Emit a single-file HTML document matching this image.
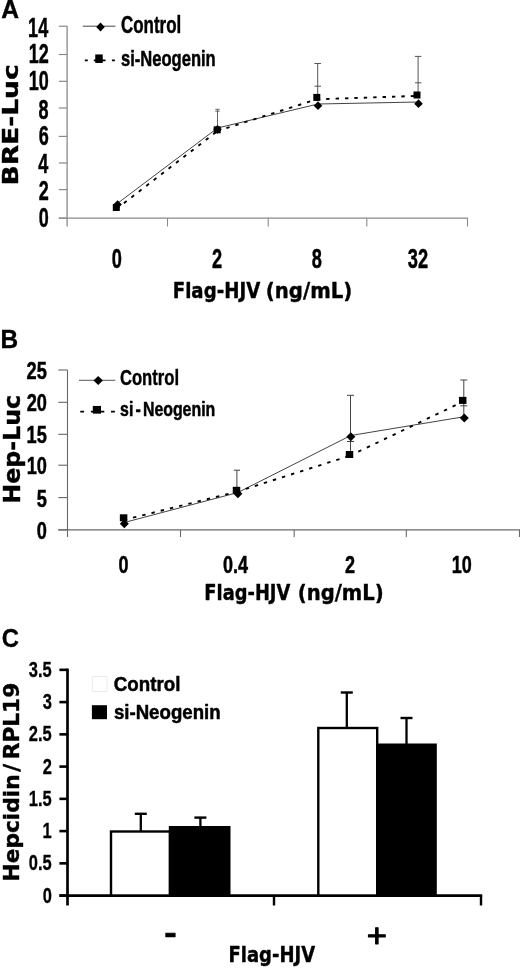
<!DOCTYPE html>
<html><head><meta charset="utf-8"><title>Figure</title>
<style>
html,body{margin:0;padding:0;background:#fff;}
svg{display:block;}
text{fill:#000;stroke:#000;stroke-linejoin:round;text-anchor:start;}
.n{font-family:"Liberation Sans",sans-serif;font-weight:bold;}
.w{font-family:"DejaVu Sans",sans-serif;font-weight:bold;}
.r{font-family:"Liberation Sans",sans-serif;font-weight:normal;}
</style></head>
<body>
<svg width="520" height="968" viewBox="0 0 520 968">
<rect x="0" y="0" width="520" height="968" fill="#fff"/>
<g id="panel-a">
<text class="n" transform="translate(1.18,17.5) scale(0.9303,1)" font-size="26.47" stroke-width="0.4">A</text>
<line x1="67.1" y1="26" x2="67.1" y2="226.5" stroke="#8a8a8a" stroke-width="1.3" />
<line x1="58.8" y1="218.1" x2="467.9" y2="218.1" stroke="#8a8a8a" stroke-width="1.05" />
<line x1="58.8" y1="218.2" x2="67.1" y2="218.2" stroke="#8a8a8a" stroke-width="1.2" />
<text class="n" transform="translate(38.76,227.1) scale(0.6630,1)" font-size="27.2" stroke-width="0.5">0</text>
<line x1="58.8" y1="189.6" x2="67.1" y2="189.6" stroke="#8a8a8a" stroke-width="1.2" />
<text class="n" transform="translate(38.76,200.05) scale(0.6630,1)" font-size="27.2" stroke-width="0.5">2</text>
<line x1="58.8" y1="163" x2="67.1" y2="163" stroke="#8a8a8a" stroke-width="1.2" />
<text class="n" transform="translate(38.13,173.25) scale(0.6630,1)" font-size="27.2" stroke-width="0.5">4</text>
<line x1="58.8" y1="136.4" x2="67.1" y2="136.4" stroke="#8a8a8a" stroke-width="1.2" />
<text class="n" transform="translate(38.67,145.3) scale(0.6630,1)" font-size="27.2" stroke-width="0.5">6</text>
<line x1="58.8" y1="108" x2="67.1" y2="108" stroke="#8a8a8a" stroke-width="1.2" />
<text class="n" transform="translate(38.58,118.5) scale(0.6630,1)" font-size="27.2" stroke-width="0.5">8</text>
<line x1="58.8" y1="81.3" x2="67.1" y2="81.3" stroke="#8a8a8a" stroke-width="1.2" />
<text class="n" transform="translate(28.75,90.2) scale(0.6630,1)" font-size="27.2" stroke-width="0.5">10</text>
<line x1="58.8" y1="54.5" x2="67.1" y2="54.5" stroke="#8a8a8a" stroke-width="1.2" />
<text class="n" transform="translate(28.75,63.2) scale(0.6630,1)" font-size="27.2" stroke-width="0.5">12</text>
<line x1="58.8" y1="26.2" x2="67.1" y2="26.2" stroke="#8a8a8a" stroke-width="1.2" />
<text class="n" transform="translate(28.12,36.6) scale(0.6630,1)" font-size="27.2" stroke-width="0.5">14</text>
<line x1="167.5" y1="218.2" x2="167.5" y2="226.5" stroke="#8a8a8a" stroke-width="1.1" />
<line x1="268.2" y1="218.2" x2="268.2" y2="226.5" stroke="#8a8a8a" stroke-width="1.1" />
<line x1="366.8" y1="218.2" x2="366.8" y2="226.5" stroke="#8a8a8a" stroke-width="1.1" />
<line x1="467.5" y1="218.2" x2="467.5" y2="226.5" stroke="#8a8a8a" stroke-width="1.1" />
<text class="n" transform="translate(111.74,267.5) scale(0.6538,1)" font-size="27.89" stroke-width="0.5">0</text>
<text class="n" transform="translate(212.09,267.5) scale(0.6538,1)" font-size="27.89" stroke-width="0.5">2</text>
<text class="n" transform="translate(311.72,267.5) scale(0.6538,1)" font-size="27.89" stroke-width="0.5">8</text>
<text class="n" transform="translate(407.84,267.5) scale(0.6538,1)" font-size="27.89" stroke-width="0.5">32</text>
<text class="w" transform="translate(172.72,298.1) scale(0.8461,1)" font-size="21.51" stroke-width="0.4">Flag-HJV</text>
<text class="w" transform="translate(265.82,298.1) scale(0.9167,1)" font-size="21.51" stroke-width="0.4">(ng/mL)</text>
<text class="w" transform="translate(18.37,185.55) rotate(-90) scale(1.2232,1)" font-size="21.68" stroke-width="0.4">BRE-Luc</text>
<line x1="82.8" y1="26.2" x2="115.4" y2="26.2" stroke="#444" stroke-width="1" />
<polygon points="96.2,27 100.5,22.4 104.8,27 100.5,31.6" fill="#000"/>
<text class="n" transform="translate(120.97,33.03) scale(0.7305,1)" font-size="23.21" stroke-width="0.5">Control</text>
<text class="n" transform="translate(121.07,66.34) scale(0.7457,1)" font-size="22.19" stroke-width="0.5">si-Neogenin</text>
<path d="M84.8 60.4H87.8M93.8 60.4H105.6M111.9 60.4H114.9" stroke="#000" stroke-width="1.9" fill="none"/>
<rect x="95.25" y="54.45" width="7.5" height="8.5" fill="#000"/>
<line x1="217.5" y1="129" x2="217.5" y2="109.3" stroke="#666" stroke-width="1" />
<line x1="215.3" y1="109.3" x2="219.7" y2="109.3" stroke="#666" stroke-width="1" />
<line x1="215.3" y1="111.2" x2="219.7" y2="111.2" stroke="#666" stroke-width="1" />
<line x1="317.7" y1="97" x2="317.7" y2="63.5" stroke="#555" stroke-width="1" />
<line x1="314.45" y1="63.5" x2="320.95" y2="63.5" stroke="#555" stroke-width="1" />
<line x1="314.5" y1="86.2" x2="321" y2="86.2" stroke="#555" stroke-width="1" />
<line x1="418.1" y1="95" x2="418.1" y2="56.4" stroke="#555" stroke-width="1" />
<line x1="414.85" y1="56.4" x2="421.35" y2="56.4" stroke="#555" stroke-width="1" />
<line x1="415" y1="82.8" x2="421.5" y2="82.8" stroke="#555" stroke-width="1" />
<polyline points="117.6,203.3 217.5,128.0 318,104.0 418.5,102.0" fill="none" stroke="#444" stroke-width="1"/>
<line x1="116.5" y1="208.9" x2="217.4" y2="131" stroke="#000" stroke-width="1.9" stroke-dasharray="3.40 6.00" stroke-dashoffset="0"/>
<line x1="217.4" y1="131" x2="316.8" y2="99.3" stroke="#000" stroke-width="1.9" stroke-dasharray="3.40 6.00" stroke-dashoffset="0"/>
<line x1="316.8" y1="99.3" x2="417" y2="95.9" stroke="#000" stroke-width="1.9" stroke-dasharray="3.40 6.00" stroke-dashoffset="0"/>
<rect x="112.8" y="204" width="7" height="7" fill="#000"/>
<rect x="213.7" y="126.3" width="7" height="7" fill="#000"/>
<rect x="313.3" y="93.9" width="7" height="7" fill="#000"/>
<rect x="413.5" y="91.5" width="7" height="7" fill="#000"/>
<polygon points="113.3,204.6 117.6,200.2 121.9,204.6 117.6,209" fill="#000"/>
<polygon points="213.2,129.3 217.5,124.9 221.8,129.3 217.5,133.7" fill="#000"/>
<polygon points="313.7,105.7 318,101.3 322.3,105.7 318,110.1" fill="#000"/>
<polygon points="414.2,103.7 418.5,99.3 422.8,103.7 418.5,108.1" fill="#000"/>
</g>
<g id="panel-b">
<text class="n" transform="translate(0.45,347.5) scale(0.9434,1)" font-size="25.89" stroke-width="0.4">B</text>
<line x1="67.5" y1="370" x2="67.5" y2="537" stroke="#686868" stroke-width="1.1" />
<line x1="58.3" y1="529.9" x2="520" y2="529.9" stroke="#686868" stroke-width="1.1" />
<line x1="58.3" y1="529.9" x2="67.5" y2="529.9" stroke="#686868" stroke-width="1.1" />
<text class="n" transform="translate(36.86,538.95) scale(0.7414,1)" font-size="24.59" stroke-width="0.5">0</text>
<line x1="58.3" y1="497.6" x2="67.5" y2="497.6" stroke="#686868" stroke-width="1.1" />
<text class="n" transform="translate(36.63,506.65) scale(0.7414,1)" font-size="24.59" stroke-width="0.5">5</text>
<line x1="58.3" y1="465.2" x2="67.5" y2="465.2" stroke="#686868" stroke-width="1.1" />
<text class="n" transform="translate(26.74,474.25) scale(0.7414,1)" font-size="24.59" stroke-width="0.5">10</text>
<line x1="58.3" y1="434.3" x2="67.5" y2="434.3" stroke="#686868" stroke-width="1.1" />
<text class="n" transform="translate(26.51,443.35) scale(0.7414,1)" font-size="24.59" stroke-width="0.5">15</text>
<line x1="58.3" y1="402.3" x2="67.5" y2="402.3" stroke="#686868" stroke-width="1.1" />
<text class="n" transform="translate(26.74,411.35) scale(0.7414,1)" font-size="24.59" stroke-width="0.5">20</text>
<line x1="58.3" y1="370" x2="67.5" y2="370" stroke="#686868" stroke-width="1.1" />
<text class="n" transform="translate(26.51,379.05) scale(0.7414,1)" font-size="24.59" stroke-width="0.5">25</text>
<line x1="180.5" y1="530" x2="180.5" y2="537" stroke="#686868" stroke-width="1.1" />
<line x1="294.2" y1="530" x2="294.2" y2="537" stroke="#686868" stroke-width="1.1" />
<line x1="406.3" y1="530" x2="406.3" y2="537" stroke="#686868" stroke-width="1.1" />
<line x1="519.5" y1="530" x2="519.5" y2="537" stroke="#686868" stroke-width="1.1" />
<text class="n" transform="translate(118.51,573.41) scale(0.7577,1)" font-size="23.75" stroke-width="0.5">0</text>
<text class="n" transform="translate(222.98,573.41) scale(0.7577,1)" font-size="23.75" stroke-width="0.5">0.4</text>
<text class="n" transform="translate(345.05,573.41) scale(0.7577,1)" font-size="23.75" stroke-width="0.5">2</text>
<text class="n" transform="translate(451.81,573.41) scale(0.7577,1)" font-size="23.75" stroke-width="0.5">10</text>
<text class="w" transform="translate(204.35,599.7) scale(0.8148,1)" font-size="21.92" stroke-width="0.4">Flag-HJV</text>
<text class="w" transform="translate(297.73,599.7) scale(0.8952,1)" font-size="21.92" stroke-width="0.4">(ng/mL)</text>
<text class="w" transform="translate(19.7,503.7) rotate(-90) scale(1.0075,1)" font-size="23.56" stroke-width="0.4">Hep-Luc</text>
<line x1="79" y1="380.3" x2="115.2" y2="380.3" stroke="#555" stroke-width="1" />
<polygon points="93.5,380.4 98.2,375.9 102.9,380.4 98.2,384.9" fill="#000"/>
<text class="n" transform="translate(119.93,385.2) scale(0.7695,1)" font-size="21.65" stroke-width="0.4">Control</text>
<text class="n" transform="translate(120.09,415.6) scale(0.7978,1)" font-size="19.91" stroke-width="0.5">si<tspan dx="2.7">-</tspan><tspan dx="2.7">Neogenin</tspan></text>
<path d="M80.3 411.6H84.1M90.9 411.6H104.3M111 411.6H114.9" stroke="#000" stroke-width="1.9" fill="none"/>
<rect x="92.8" y="405.95" width="8.2" height="7.7" fill="#000"/>
<line x1="236.9" y1="490" x2="236.9" y2="470.2" stroke="#444" stroke-width="1" />
<line x1="233.8" y1="470.2" x2="240" y2="470.2" stroke="#444" stroke-width="1" />
<line x1="350.5" y1="454" x2="350.5" y2="395.3" stroke="#444" stroke-width="1" />
<line x1="347" y1="395.3" x2="354" y2="395.3" stroke="#444" stroke-width="1" />
<line x1="347" y1="441.5" x2="354" y2="441.5" stroke="#444" stroke-width="1" />
<line x1="463.8" y1="418" x2="463.8" y2="380" stroke="#444" stroke-width="1" />
<line x1="460.3" y1="380" x2="467.3" y2="380" stroke="#444" stroke-width="1" />
<line x1="460.3" y1="405.8" x2="467.3" y2="405.8" stroke="#444" stroke-width="1" />
<polyline points="124.3,522.5 237.9,492.5 350.8,435.5 464.3,416.7" fill="none" stroke="#444" stroke-width="1"/>
<line x1="123.8" y1="520" x2="236.7" y2="491.8" stroke="#000" stroke-width="1.9" stroke-dasharray="3.40 6.10" stroke-dashoffset="0"/>
<line x1="236.7" y1="491.8" x2="349.7" y2="455.8" stroke="#000" stroke-width="1.9" stroke-dasharray="3.40 6.10" stroke-dashoffset="0"/>
<line x1="349.7" y1="455.8" x2="462.9" y2="401.7" stroke="#000" stroke-width="1.9" stroke-dasharray="3.40 6.10" stroke-dashoffset="0"/>
<rect x="119.85" y="514.3" width="7.5" height="7" fill="#000"/>
<rect x="232.75" y="486.8" width="7.5" height="7" fill="#000"/>
<rect x="345.75" y="451" width="7.5" height="7" fill="#000"/>
<rect x="458.95" y="396.9" width="7.5" height="7" fill="#000"/>
<polygon points="119.8,523.8 124.3,519.3 128.8,523.8 124.3,528.3" fill="#000"/>
<polygon points="233.4,493.8 237.9,489.3 242.4,493.8 237.9,498.3" fill="#000"/>
<polygon points="346.3,436.8 350.8,432.3 355.3,436.8 350.8,441.3" fill="#000"/>
<polygon points="459.8,418 464.3,413.5 468.8,418 464.3,422.5" fill="#000"/>
</g>
<g id="panel-c">
<text class="n" transform="translate(1.7,646.59) scale(0.9108,1)" font-size="26.15" stroke-width="0.3">C</text>
<line x1="67.5" y1="668.6" x2="67.5" y2="905.5" stroke="#000" stroke-width="2.7" />
<line x1="59.4" y1="895.6" x2="482.2" y2="895.6" stroke="#000" stroke-width="2.6" />
<line x1="59.4" y1="895.6" x2="67.5" y2="895.6" stroke="#000" stroke-width="2.6" />
<text class="n" transform="translate(42.76,902.68) scale(0.7653,1)" font-size="21.55" stroke-width="0.3">0</text>
<line x1="59.4" y1="863.35" x2="67.5" y2="863.35" stroke="#000" stroke-width="2.6" />
<text class="n" transform="translate(28.78,870.43) scale(0.7653,1)" font-size="21.55" stroke-width="0.3">0.5</text>
<line x1="59.4" y1="831.1" x2="67.5" y2="831.1" stroke="#000" stroke-width="2.6" />
<text class="n" transform="translate(42.55,838.18) scale(0.7653,1)" font-size="21.55" stroke-width="0.3">1</text>
<line x1="59.4" y1="798.85" x2="67.5" y2="798.85" stroke="#000" stroke-width="2.6" />
<text class="n" transform="translate(28.78,805.93) scale(0.7653,1)" font-size="21.55" stroke-width="0.3">1.5</text>
<line x1="59.4" y1="766.6" x2="67.5" y2="766.6" stroke="#000" stroke-width="2.6" />
<text class="n" transform="translate(42.76,773.68) scale(0.7653,1)" font-size="21.55" stroke-width="0.3">2</text>
<line x1="59.4" y1="734.35" x2="67.5" y2="734.35" stroke="#000" stroke-width="2.6" />
<text class="n" transform="translate(28.78,741.43) scale(0.7653,1)" font-size="21.55" stroke-width="0.3">2.5</text>
<line x1="59.4" y1="702.1" x2="67.5" y2="702.1" stroke="#000" stroke-width="2.6" />
<text class="n" transform="translate(42.67,709.18) scale(0.7653,1)" font-size="21.55" stroke-width="0.3">3</text>
<line x1="59.4" y1="669.85" x2="67.5" y2="669.85" stroke="#000" stroke-width="2.6" />
<text class="n" transform="translate(28.78,676.93) scale(0.7653,1)" font-size="21.55" stroke-width="0.3">3.5</text>
<line x1="274" y1="895.5" x2="274" y2="905.5" stroke="#000" stroke-width="2.4" />
<line x1="481" y1="895.5" x2="481" y2="905.5" stroke="#000" stroke-width="2.4" />
<line x1="140.8" y1="831" x2="140.8" y2="813.8" stroke="#000" stroke-width="2.3" />
<line x1="134.8" y1="813.8" x2="146.8" y2="813.8" stroke="#000" stroke-width="2.4" />
<line x1="200.4" y1="826" x2="200.4" y2="817.6" stroke="#000" stroke-width="2.3" />
<line x1="194.4" y1="817.6" x2="206.4" y2="817.6" stroke="#000" stroke-width="2.4" />
<line x1="346.8" y1="728" x2="346.8" y2="692.5" stroke="#000" stroke-width="2.3" />
<line x1="340.8" y1="692.5" x2="352.8" y2="692.5" stroke="#000" stroke-width="2.4" />
<line x1="406.5" y1="744" x2="406.5" y2="718" stroke="#000" stroke-width="2.3" />
<line x1="400.5" y1="718" x2="412.5" y2="718" stroke="#000" stroke-width="2.4" />
<rect x="111" y="831.5" width="59" height="64" fill="#fff" stroke="#000" stroke-width="2.4"/>
<rect x="170" y="827.2" width="59.3" height="68.3" fill="#000" stroke="#000" stroke-width="2.4"/>
<rect x="318.3" y="728" width="58.9" height="167.5" fill="#fff" stroke="#000" stroke-width="2.4"/>
<rect x="377.2" y="744.7" width="58.4" height="150.8" fill="#000" stroke="#000" stroke-width="2.4"/>
<rect x="92.4" y="676.5" width="14.6" height="15" fill="#fff" stroke="#ebebeb" stroke-width="1"/>
<rect x="91.9" y="705.2" width="15.1" height="14" fill="#000"/>
<text class="n" transform="translate(113.8,691.45) scale(0.9015,1)" font-size="20.8" stroke-width="0.5">Control</text>
<text class="n" transform="translate(113.9,719.21) scale(0.9666,1)" font-size="19.3" stroke-width="0.5">si-Neogenin</text>
<text class="w" transform="translate(18.55,881.41) rotate(-90) scale(0.9870,1)" font-size="21.99" stroke-width="0.4">Hepcidin<tspan dx="2.7">/</tspan><tspan dx="4.5">RPL19</tspan></text>
<text class="w" transform="translate(228.43,961.6) scale(0.8601,1)" font-size="20.96" stroke-width="0.4">Flag-HJV</text>
<text class="r" transform="translate(163.85,947.9) scale(0.8158,1)" font-size="49.03" stroke-width="0.5">-</text>
<text class="r" transform="translate(366.77,947.24) scale(1.0675,1)" font-size="32.45" stroke-width="1.0">+</text>
</g>
</svg>
</body></html>
